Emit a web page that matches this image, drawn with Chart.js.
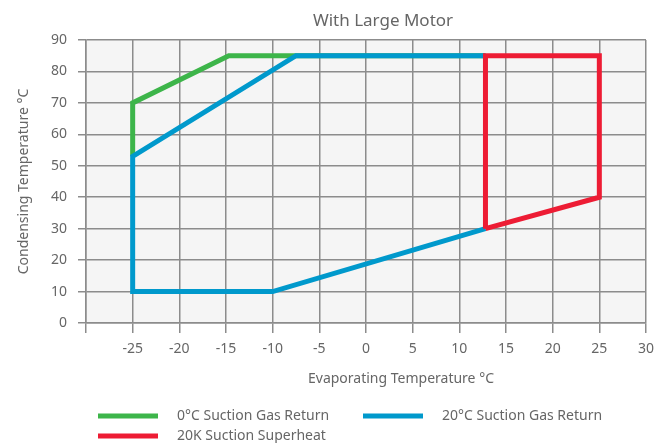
<!DOCTYPE html>
<html lang="en">
  <head>
    <meta charset="UTF-8" />
    <title>With Large Motor</title>
    <style>
      body {
        margin: 0;
        background: #ffffff;
        font-family: "Noto Sans", sans-serif;
        color: #666666;
      }
      .wrap {
        position: relative;
        width: 669px;
        height: 443px;
      }
      canvas {
        position: absolute;
        left: 0;
        top: 0;
      }
      .caption {
        position: absolute;
        white-space: nowrap;
        transform: translate(-50%, -50%);
      }
      .title { left: 383px; top: 19px; font-size: 17px; }
      .xtitle { left: 401px; top: 377px; font-size: 14px; }
      .legend-item {
        position: absolute;
        font-size: 14px;
        white-space: nowrap;
        transform: translateY(-50%);
      }
      .legend-item span {
        display: inline-block;
        width: 60px;
        height: 5px;
        margin-right: 19px;
        vertical-align: middle;
      }
    </style>
  </head>
  <body>
    <div class="wrap">
      <canvas id="envelope" width="669" height="443"></canvas>
      <div class="caption title">With Large Motor</div>
      <div class="caption xtitle">Evaporating Temperature °C</div>
      <div id="legend"></div>
    </div>

    <script src="https://cdn.jsdelivr.net/npm/chart.js"></script>
    <script>
      // series: [evaporating °C, condensing °C] corner points of each envelope
      var seriesNames = ["0°C Suction Gas Return", "20°C Suction Gas Return", "20K Suction Superheat"];
      var seriesColors = ["#3db54a", "#0099cc", "#ed1c34"];
      var green0C = [[-25, 53], [-25, 70], [-14.7, 85], [12.8, 85]];
      var blue20C = [[12.8, 85], [-7.5, 85], [-25, 53], [-25, 10], [-10, 10], [12.8, 30]];
      var red20K = [[12.8, 30], [12.8, 85], [25, 85], [25, 40], [12.8, 30]];
      var xTicks = [-30, -25, -20, -15, -10, -5, 0, 5, 10, 15, 20, 25, 30];
      var yTicks = [0, 10, 20, 30, 40, 50, 60, 70, 80, 90];

      function toPoints(list) {
        return list.map(function (p) {
          return { x: p[0], y: p[1] };
        });
      }

      // legend laid out like the original: two columns, wraps to second row
      var legendSpots = [
        { left: 98, top: 414 },
        { left: 363, top: 414 },
        { left: 98, top: 434 },
      ];
      var legend = document.getElementById("legend");
      seriesNames.forEach(function (name, i) {
        var item = document.createElement("div");
        item.className = "legend-item";
        item.style.left = legendSpots[i].left + "px";
        item.style.top = legendSpots[i].top + "px";
        var swatch = document.createElement("span");
        swatch.style.background = seriesColors[i];
        item.appendChild(swatch);
        item.appendChild(document.createTextNode(name));
        legend.appendChild(item);
      });

      var plotBackground = {
        id: "plotBackground",
        beforeDraw: function (chart) {
          var a = chart.chartArea;
          var ctx = chart.ctx;
          ctx.save();
          ctx.fillStyle = "#f5f5f5";
          ctx.fillRect(a.left, a.top, a.right - a.left, a.bottom - a.top);
          ctx.restore();
        },
      };

      var gridColor = "#8c8c8c";
      var tickFont = { family: "Noto Sans", size: 14 };

      new Chart(document.getElementById("envelope"), {
        type: "scatter",
        data: {
          datasets: [
            { label: seriesNames[0], data: toPoints(green0C), borderColor: seriesColors[0], order: 2 },
            { label: seriesNames[1], data: toPoints(blue20C), borderColor: seriesColors[1], order: 1 },
            { label: seriesNames[2], data: toPoints(red20K), borderColor: seriesColors[2], order: 0 },
          ],
        },
        options: {
          responsive: false,
          animation: false,
          showLine: true,
          layout: { padding: { left: 0, top: 40, right: 23, bottom: 0 } },
          elements: {
            line: { borderWidth: 5, tension: 0, borderJoinStyle: "miter", borderCapStyle: "butt" },
            point: { radius: 0, hoverRadius: 0 },
          },
          plugins: {
            legend: { display: false },
            tooltip: { enabled: false },
            title: { display: false },
          },
          scales: {
            x: {
              type: "linear",
              min: -30,
              max: 30,
              afterBuildTicks: function (scale) {
                scale.ticks = xTicks.map(function (v) { return { value: v }; });
              },
              afterFit: function (scale) {
                scale.height = 120;
              },
              ticks: {
                color: "#666666",
                font: tickFont,
                padding: 8,
                maxRotation: 0,
                callback: function (value) {
                  return value === -30 ? "" : value;
                },
              },
              grid: { color: gridColor, lineWidth: 1.5, tickLength: 10 },
              border: { color: gridColor, width: 1.5 },
            },
            y: {
              type: "linear",
              min: 0,
              max: 90,
              afterBuildTicks: function (scale) {
                scale.ticks = yTicks.map(function (v) { return { value: v }; });
              },
              afterFit: function (scale) {
                scale.width = 86;
              },
              ticks: { color: "#666666", font: tickFont, padding: 11 },
              grid: { color: gridColor, lineWidth: 1.5, tickLength: 8 },
              border: { color: gridColor, width: 1.5 },
              title: {
                display: true,
                text: "Condensing Temperature °C",
                color: "#666666",
                font: { family: "Noto Sans", size: 14 },
                padding: { top: 16, bottom: 0 },
              },
            },
          },
        },
        plugins: [plotBackground],
      });
    </script>
  </body>
</html>
